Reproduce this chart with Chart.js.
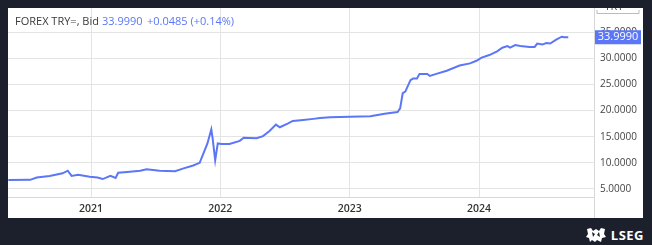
<!DOCTYPE html>
<html>
<head>
<meta charset="utf-8">
<script src="https://cdn.jsdelivr.net/npm/chart.js@4"></script>
<style>
  html, body { margin: 0; padding: 0; }
  body { width: 652px; height: 245px; background: #1c202c; position: relative; overflow: hidden; font-family: "Open Sans", sans-serif; }
  #panel { position: absolute; left: 8px; top: 8px; width: 635px; height: 210px; background: #fff; }
  #brand { position: absolute; right: 8px; top: 226px; color: #fff; font: bold 13px "Open Sans", sans-serif; letter-spacing: 0.5px; display: flex; align-items: center; gap: 4px; }
</style>
</head>
<body>
<div id="panel"><canvas id="rateChart" width="635" height="210"></canvas></div>
<div id="brand">
  <svg width="22" height="16" viewBox="0 0 22 16">
    <path d="M2 2 L6 1 L8 4 L11 2 L14 4 L16 1 L20 2 L19 7 L21 10 L17 11 L16 15 L12 13 L10 15 L7 13 L5 15 L4 11 L1 10 L3 7 Z" fill="#fff"/>
    <path d="M7 5 L10 7 L8 10 Z M14 5 L12 8 L15 10 Z" fill="#1c202c"/>
  </svg>
  <span>LSEG</span>
</div>
<script>
// weekly-ish samples, time in decimal years
const time = [
  2020.36, 2020.53, 2020.58, 2020.68, 2020.78, 2020.82, 2020.85, 2020.90, 2020.99,
  2021.05, 2021.09, 2021.15, 2021.19, 2021.21, 2021.28, 2021.38, 2021.43, 2021.53,
  2021.65, 2021.71, 2021.79, 2021.84, 2021.90, 2021.93, 2021.94, 2021.96, 2021.98,
  2022.01, 2022.07, 2022.15, 2022.18, 2022.28, 2022.33, 2022.38, 2022.43, 2022.46,
  2022.52, 2022.56, 2022.64, 2022.72, 2022.77, 2022.85, 2023.00, 2023.16, 2023.27,
  2023.37, 2023.39, 2023.41, 2023.43, 2023.47, 2023.49, 2023.52, 2023.54, 2023.60,
  2023.62, 2023.67, 2023.75, 2023.85, 2023.93, 2023.98, 2024.02, 2024.08, 2024.14,
  2024.18, 2024.22, 2024.24, 2024.28, 2024.32, 2024.39, 2024.43, 2024.45, 2024.49,
  2024.52, 2024.55, 2024.60, 2024.64, 2024.66, 2024.69
];
const rate = [
  6.72, 6.75, 7.20, 7.50, 8.00, 8.50, 7.50, 7.70, 7.35,
  7.20, 6.90, 7.50, 7.10, 8.10, 8.25, 8.50, 8.75, 8.50,
  8.40, 8.90, 9.50, 10.0, 13.7, 16.4, 14.7, 10.5, 13.7,
  13.6, 13.6, 14.2, 14.8, 14.7, 15.1, 16.1, 17.3, 16.8,
  17.5, 18.0, 18.2, 18.4, 18.55, 18.7, 18.8, 18.9, 19.4,
  19.7, 20.4, 23.3, 23.6, 25.8, 26.1, 26.1, 27.0, 27.0,
  26.6, 27.0, 27.6, 28.6, 29.0, 29.5, 30.1, 30.6, 31.3,
  32.0, 32.3, 32.0, 32.5, 32.35, 32.15, 32.15, 32.8, 32.6,
  32.9, 32.8, 33.6, 34.1, 34.0, 34.0
];
const yearTicks = [2021, 2022, 2023, 2024];
const rateTicks = [5, 10, 15, 20, 25, 30, 35];
const lastPrice = "33.9990";
const change = "+0.0485 (+0.14%)";

const lineColor = "#5b76f7";
const gridColor = "#e4e4e4";

const overlay = {
  id: "overlay",
  afterDraw(chart) {
    const ctx = chart.ctx;
    const area = chart.chartArea;
    const y = chart.scales.y;
    ctx.save();
    // axis frame lines
    ctx.strokeStyle = "#d8d8d8";
    ctx.lineWidth = 1;
    ctx.beginPath();
    ctx.moveTo(area.right + 0.5, 0);
    ctx.lineTo(area.right + 0.5, chart.height);
    ctx.moveTo(0, area.bottom + 0.5);
    ctx.lineTo(area.right, area.bottom + 0.5);
    ctx.stroke();

    // legend text
    ctx.textAlign = "left";
    ctx.textBaseline = "middle";
    ctx.font = "11px 'Open Sans', sans-serif";
    ctx.fillStyle = "#3a3a3a";
    ctx.fillText("FOREX TRY=, Bid", 7, 14);
    ctx.fillStyle = lineColor;
    ctx.fillText(lastPrice, 94, 14);
    ctx.fillText(change, 139, 14);

    // currency label at top of axis, mostly cut off
    ctx.fillStyle = "#444";
    ctx.font = "11px 'Open Sans', sans-serif";
    ctx.textAlign = "center";
    ctx.fillText("TRY", area.right + 20, -1);
    ctx.strokeStyle = "#bbb";
    ctx.beginPath();
    ctx.moveTo(area.right + 3, 2);
    ctx.lineTo(area.right + 3, 5.5);
    ctx.lineTo(area.right + 45, 5.5);
    ctx.lineTo(area.right + 45, 2);
    ctx.stroke();

    // price tag
    const py = y.getPixelForValue(rate[rate.length - 1]);
    ctx.fillStyle = lineColor;
    ctx.fillRect(area.right + 1, py - 7, 46, 14);
    ctx.fillStyle = "#fff";
    ctx.font = "11px 'Open Sans', sans-serif";
    ctx.fillText(lastPrice, area.right + 24, py);
    ctx.restore();
  }
};

function noPad(axis) {
  axis.paddingTop = 0;
  axis.paddingBottom = 0;
  axis.paddingLeft = 0;
  axis.paddingRight = 0;
}

new Chart(document.getElementById("rateChart").getContext("2d"), {
  type: "line",
  data: {
    datasets: [{
      data: time.map((t, i) => ({ x: t, y: rate[i] })),
      borderColor: lineColor,
      borderWidth: 2,
      pointRadius: 0,
      tension: 0,
      fill: false
    }]
  },
  options: {
    responsive: false,
    animation: false,
    layout: { padding: 0 },
    plugins: { legend: { display: false }, tooltip: { enabled: false } },
    scales: {
      x: {
        type: "linear",
        min: 2020.358,
        max: 2024.889,
        afterBuildTicks: axis => { axis.ticks = yearTicks.map(v => ({ value: v })); },
        afterFit: axis => { axis.height = 21; noPad(axis); },
        grid: { color: gridColor, drawTicks: false },
        border: { display: false },
        ticks: {
          padding: 6,
          color: "#333",
          font: { family: "'Open Sans', sans-serif", size: 10.5, weight: "600" },
          callback: v => String(v)
        }
      },
      y: {
        position: "right",
        min: 3.47,
        max: 39.59,
        afterBuildTicks: axis => { axis.ticks = rateTicks.map(v => ({ value: v })); },
        afterFit: axis => { axis.width = 49; noPad(axis); },
        grid: { color: gridColor, drawTicks: false },
        border: { display: false },
        ticks: {
          padding: 6,
          color: "#444",
          font: { family: "'Open Sans', sans-serif", size: 10 },
          callback: v => v.toFixed(4)
        }
      }
    }
  },
  plugins: [overlay]
});
</script>
</body>
</html>
